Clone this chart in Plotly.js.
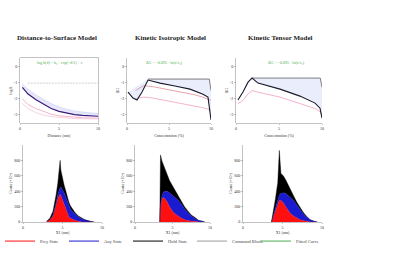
<!DOCTYPE html>
<html><head><meta charset="utf-8">
<script src="https://cdn.plot.ly/plotly-3.0.1.min.js"></script>
<style>html,body{margin:0;padding:0;background:#fff}#c{width:400px;height:257px}</style>
</head><body><div id="c"></div>
<script>
// ---------- data ----------
const panelTitles = ["Distance-to-Surface Model", "Kinetic Isotropic Model", "Kinetic Tensor Model"];
const fitTexts = ["log k(d) = k\u2080 \u00b7 exp(\u2212d/\u03bb) + c", "\u0394G = \u22120.095 \u00b7 ln(c/c\u2080)", "\u0394G = \u22120.095 \u00b7 ln(c/c\u2080)"];
const topXTitles = ["Distance (nm)", "Concentration (%)", "Concentration (%)"];
const legendNames = ["Prey State", "Any State", "Hold State", "Command Block", "Fitted Curve"];

// top-left
const tlX = [0.3, 1, 2, 3, 4, 5, 6, 7, 8, 9, 10];
const tlDark = [-1.3, -1.7, -2.05, -2.35, -2.6, -2.78, -2.9, -2.98, -3.03, -3.06, -3.08];
const tlBandHi = [-1.1, -1.4, -1.75, -2.05, -2.3, -2.5, -2.65, -2.75, -2.82, -2.87, -2.9];
const tlPink1 = [-2.0, -2.35, -2.6, -2.8, -2.95, -3.05, -3.1, -3.15, -3.17, -3.18, -3.19];
const tlPink2 = [-2.3, -2.6, -2.85, -3.0, -3.1, -3.15, -3.2, -3.22, -3.23, -3.24, -3.25];
const tlCmdX = [1, 10];
const tlCmdY = [-1.04, -1.04];

// top-middle
const tmX = [0.12, 0.71, 1.19, 1.79, 2.5, 3.93, 5.71, 7.5, 9.05, 9.64, 10];
const tmBlack = [-1.59, -1.96, -2.08, -1.59, -0.85, -1.04, -1.22, -1.41, -1.72, -1.9, -3.3];
const tmGrayX = [2.5, 9.8, 10];
const tmGray = [-0.79, -0.79, -1.5];
const tmPinkX = [1, 2, 3, 4, 5, 6, 7, 8, 9, 10];
const tmPink = [-2.0, -1.9, -1.95, -2.05, -2.15, -2.25, -2.35, -2.45, -2.55, -2.7];
const tmRed = [-1.5, -1.2, -1.25, -1.35, -1.45, -1.55, -1.65, -1.75, -1.9, -2.1];

// top-right
const trX = [0.23, 0.81, 1.4, 1.86, 2.56, 5.12, 7.44, 9.19, 9.77, 10];
const trBlack = [-2.08, -1.59, -0.98, -0.73, -1.04, -1.41, -1.84, -2.27, -2.58, -3.19];
const trGrayX = [1.86, 9.8, 10];
const trGray = [-0.73, -0.73, -1.3];
const trPink = [-2.3, -2.1, -1.7, -1.5, -1.6, -1.9, -2.3, -2.6, -2.8, -3.0];

// histograms (bin centre, red, blue, black)
const h1X = [3.0, 3.4, 3.8, 4.0, 4.2, 4.4, 4.6, 4.7, 4.8, 5.0, 5.2, 5.4, 5.6, 5.8, 6.0, 6.3, 6.6, 7.0, 7.5, 8.0, 8.5, 9.0];
const h1R = [1, 3, 8, 14, 22, 30, 35, 36, 34, 28, 22, 16, 11, 7, 5, 3, 2, 1, 0, 0, 0, 0];
const h1B = [0, 0, 1, 2, 3, 5, 8, 9, 11, 14, 16, 17, 16, 14, 12, 10, 8, 6, 4, 2, 1, 0];
const h1K = [0, 2, 5, 8, 11, 15, 30, 35, 22, 14, 10, 8, 6, 5, 4, 3, 2, 1, 1, 0, 0, 0];

const h2X = [3.3, 3.4, 3.6, 3.8, 4.0, 4.3, 4.6, 5.0, 5.4, 5.8, 6.2, 6.6, 7.0, 7.5, 8.0, 8.5, 9.0, 9.3];
const h2R = [0, 20, 30, 32, 30, 26, 20, 14, 10, 7, 5, 3, 2, 1, 1, 0, 0, 0];
const h2B = [0, 2, 4, 7, 10, 14, 18, 21, 22, 21, 18, 14, 11, 7, 4, 2, 1, 0];
const h2K = [0, 65, 45, 35, 28, 21, 16, 12, 8, 6, 4, 3, 2, 1, 1, 0, 0, 0];

const h3X = [3.6, 3.8, 4.1, 4.4, 4.6, 4.8, 5.1, 5.4, 5.7, 6.0, 6.4, 6.8, 7.2, 7.6, 8.0, 8.5, 9.0, 9.4];
const h3R = [0, 6, 15, 24, 28, 28, 25, 20, 15, 11, 8, 5, 3, 2, 1, 0, 0, 0];
const h3B = [0, 1, 3, 5, 7, 9, 13, 17, 20, 21, 20, 17, 13, 9, 6, 3, 1, 0];
const h3K = [0, 4, 12, 22, 58, 26, 22, 18, 13, 9, 6, 4, 3, 2, 1, 0, 0, 0];

// ---------- styling ----------
const FONT = "Liberation Serif";
const RED = "#ff1010", BLUE = "#1a1ad0", BLACK = "#000000", GRAY = "#9a9a9a", GREEN = "#4caf50";
const PURPLE = "#3a1a7a", PINK = "#f2a0c0";

const traces = [];
function line(x, y, xa, ya, color, w, extra) {
  return Object.assign({type: "scatter", mode: "lines", x: x, y: y, xaxis: xa, yaxis: ya,
    line: {color: color, width: w}, showlegend: false, hoverinfo: "skip"}, extra || {});
}
// top-left
traces.push(line(tlX, tlBandHi, "x", "y", "rgba(120,130,230,0.35)", 0.5));
traces.push(line(tlX, tlDark, "x", "y", PURPLE, 1.2, {fill: "tonexty", fillcolor: "rgba(150,160,240,0.25)"}));
traces.push(line(tlX, tlPink1, "x", "y", PINK, 0.8));
traces.push(line(tlX, tlPink2, "x", "y", "#f7c6d8", 0.8));
traces.push(line(tlCmdX, tlCmdY, "x", "y", GRAY, 0.6, {line: {color: "#b0b0b0", width: 0.6, dash: "2px,1px"}}));
// top-middle
traces.push(line(tmPinkX, tmPink, "x2", "y2", PINK, 0.8));
traces.push(line(tmPinkX, tmRed, "x2", "y2", "#e07a8a", 0.7));
traces.push(line(tmGrayX, tmGray, "x2", "y2", "#707070", 0.9));
traces.push(line(tmX, tmBlack, "x2", "y2", "#1a1a2a", 1.1, {fill: "tonexty", fillcolor: "rgba(150,170,240,0.2)"}));
// top-right
traces.push(line(trX, trPink, "x3", "y3", PINK, 0.8));
traces.push(line(trGrayX, trGray, "x3", "y3", "#707070", 0.9));
traces.push(line(trX, trBlack, "x3", "y3", "#1a1a2a", 1.1, {fill: "tonexty", fillcolor: "rgba(150,170,240,0.2)"}));

// histograms
function hist(x, r, b, k, xa, ya, g) {
  [[r, RED], [b, BLUE], [k, BLACK]].forEach(function (p) {
    traces.push({type: "scatter", mode: "lines", x: x, y: p[0], xaxis: xa, yaxis: ya, stackgroup: g,
      line: {color: p[1], width: 0.4}, fillcolor: p[1], showlegend: false, hoverinfo: "skip"});
  });
}
hist(h1X, h1R, h1B, h1K, "x4", "y4", "g1");
hist(h2X, h2R, h2B, h2K, "x5", "y5", "g2");
hist(h3X, h3R, h3B, h3K, "x6", "y6", "g3");

// legend entries
const legColors = [RED, BLUE, BLACK, GRAY, GREEN];
legendNames.forEach(function (n, i) {
  traces.push({type: "scatter", mode: "lines", x: [null], y: [null], xaxis: "x", yaxis: "y",
    name: n, line: {color: legColors[i], width: 1}, showlegend: true, hoverinfo: "skip"});
});

const tickFont = {family: FONT, size: 4, color: "#333"};
const tf = {family: FONT, size: 4, color: "#333"};
function ax(domain, anchor, extra) {
  return Object.assign({domain: domain, anchor: anchor, showgrid: false, zeroline: false,
    showline: true, linecolor: "#888", linewidth: 0.5, ticks: "outside", ticklen: 1.5, tickwidth: 0.5,
    tickcolor: "#888", tickfont: tickFont}, extra || {});
}
const yTop = [0.521, 0.774], yBot = [0.136, 0.436];
const topY = {range: [-3.5, 0.5], tickvals: [0, -1, -2, -3], ticktext: ["0", "-1", "-2", "-3"]};
const histY = {range: [0, 100], tickvals: [0, 20, 40, 60, 80], ticktext: ["0", "200", "400", "600", "800"]};
const layout = {
  width: 400, height: 257, margin: {l: 0, r: 0, t: 0, b: 0},
  paper_bgcolor: "#fff", plot_bgcolor: "#fff",
  font: {family: FONT, size: 4, color: "#333"},
  xaxis: ax([0.05, 0.245], "y", {range: [0, 10], mirror: true, title: {text: topXTitles[0], font: tf, standoff: 4}}),
  yaxis: ax(yTop, "x", Object.assign({mirror: true, title: {text: "log k", font: tf, standoff: 1}}, topY)),
  xaxis2: ax([0.3175, 0.5275], "y2", {range: [0, 10], title: {text: topXTitles[1], font: tf, standoff: 4}}),
  yaxis2: ax(yTop, "x2", Object.assign({title: {text: "\u0394G", font: tf, standoff: 1}}, topY)),
  xaxis3: ax([0.59, 0.805], "y3", {range: [0, 10], title: {text: topXTitles[2], font: tf, standoff: 4}}),
  yaxis3: ax(yTop, "x3", Object.assign({title: {text: "\u0394G", font: tf, standoff: 1}}, topY)),
  xaxis4: ax([0.0575, 0.255], "y4", {range: [0, 10], title: {text: "X1 (nm)", font: tf, standoff: 2}}),
  yaxis4: ax(yBot, "x4", Object.assign({title: {text: "Count (\u00d710\u00b3)", font: tf, standoff: 1}}, histY)),
  xaxis5: ax([0.3375, 0.525], "y5", {range: [0, 10], title: {text: "X1 (nm)", font: tf, standoff: 2}}),
  yaxis5: ax(yBot, "x5", Object.assign({title: {text: "Count (\u00d710\u00b3)", font: tf, standoff: 1}}, histY)),
  xaxis6: ax([0.6075, 0.805], "y6", {range: [0, 10], title: {text: "X1 (nm)", font: tf, standoff: 2}}),
  yaxis6: ax(yBot, "x6", Object.assign({title: {text: "Count (\u00d710\u00b3)", font: tf, standoff: 1}}, histY)),
  showlegend: true,
  legend: {orientation: "h", x: 0.0, y: 0.062, xanchor: "left", yanchor: "middle", traceorder: "normal",
    font: {family: FONT, size: 4.5, color: "#444"}, itemwidth: 30, entrywidth: 19, entrywidthmode: "pixels",
    bgcolor: "rgba(0,0,0,0)", tracegroupgap: 0},
  annotations: [
    {text: "<b>" + panelTitles[0] + "</b>", x: 0.1425, y: 0.852, xanchor: "center", yanchor: "middle", xref: "paper", yref: "paper", showarrow: false, font: {family: FONT, size: 7, color: "#222"}},
    {text: "<b>" + panelTitles[1] + "</b>", x: 0.425, y: 0.852, xanchor: "center", yanchor: "middle", xref: "paper", yref: "paper", showarrow: false, font: {family: FONT, size: 7, color: "#222"}},
    {text: "<b>" + panelTitles[2] + "</b>", x: 0.70, y: 0.852, xanchor: "center", yanchor: "middle", xref: "paper", yref: "paper", showarrow: false, font: {family: FONT, size: 7, color: "#222"}},
    {text: fitTexts[0], x: 0.15, y: 0.755, xanchor: "center", yanchor: "middle", xref: "paper", yref: "paper", showarrow: false, font: {family: FONT, size: 4, color: GREEN}},
    {text: fitTexts[1], x: 0.41, y: 0.758, xanchor: "center", yanchor: "middle", xref: "paper", yref: "paper", showarrow: false, font: {family: FONT, size: 4, color: GREEN}},
    {text: fitTexts[2], x: 0.715, y: 0.755, xanchor: "center", yanchor: "middle", xref: "paper", yref: "paper", showarrow: false, font: {family: FONT, size: 4, color: GREEN}}
  ]
};
Plotly.newPlot("c", traces, layout, {staticPlot: true, displayModeBar: false});
</script></body></html>
